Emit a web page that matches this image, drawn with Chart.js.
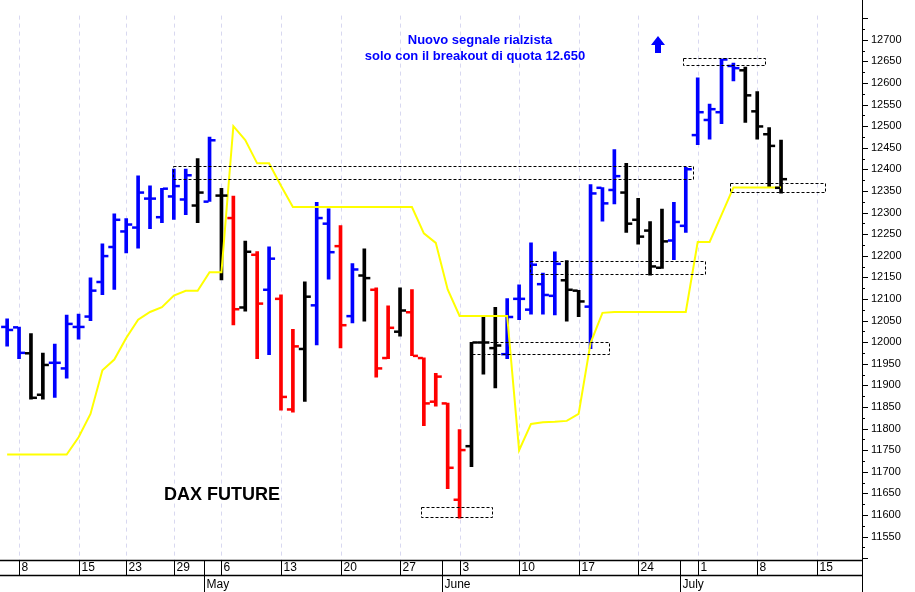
<!DOCTYPE html>
<html><head><meta charset="utf-8">
<script src="https://cdn.jsdelivr.net/npm/chart.js@4"></script>
<style>html,body{margin:0;padding:0;background:#fff}#w{width:915px;height:592px;position:relative}</style>
</head><body><div id="w"><canvas id="c"></canvas></div>
<script>
// trading-day index (0 = 8 April) of each bar
const firstIndex = -1;
const opens  = [12036,12035,11975,11879,11953,11940,12036,12060,12140,12221,12257,12266,12333,12290,12338,12331,12317,12326,12340,
 12288,12081,12203,12122,12101,11845,11985,12086,12275,12223,12061,12155,12122,11964,12025,12070,11964,11863,11859,11636,11760,12000,11987,11973,12101,12076,12135,12108,12144,12120,12083,12358,12353,12347,12284,12259,12173,12236,12270,12480,12515,12533,12640,12630,12535,12482,12358];
const highs  = [12054,12035,12020,11975,11996,12063,12065,12149,12228,12297,12286,12385,12362,12356,12401,12401,12425,12475,12356,
 12338,12234,12210,12221,12110,12030,12140,12324,12309,12270,12182,12216,12126,12084,12126,12122,11964,11928,11859,11798,12000,12059,12081,12101,12133,12230,12160,12209,12189,12120,12365,12358,12446,12414,12333,12279,12308,12324,12405,12612,12551,12655,12646,12637,12580,12497,12468];
const lows   = [11991,11962,11868,11868,11872,11917,12007,12050,12110,12122,12207,12218,12263,12277,12284,12295,12277,12326,12144,
 12040,12072,11962,11971,11843,11838,11863,11994,12146,11987,12045,12049,11919,11962,12014,11969,11807,11852,11661,11593,11712,11926,11894,11962,12052,12065,12065,12063,12049,12059,11985,12280,12320,12254,12227,12155,12171,12191,12254,12457,12470,12506,12605,12509,12470,12358,12345];
const closes = [12029,11976,11872,11948,11953,12043,12036,12120,12200,12284,12273,12347,12333,12356,12362,12387,12347,12468,12340,
 12077,12210,12090,12194,11874,11991,12106,12288,12209,12040,12169,12149,11940,12034,12074,11969,11859,11921,11710,11751,12000,12000,11993,12059,12101,12180,12110,12182,12122,12095,12345,12322,12385,12275,12245,12176,12234,12279,12401,12533,12540,12655,12635,12572,12500,12455,12378];
// signal state per bar: u = rialzista (blue), d = ribassista (red), n = neutrale (black)
const signals = "uunn" + "uuuuuuuuuuuu" + "nun" + "dnd" + "udd" + "nuu" + "dun" + "ddn" + "ddddd" + "nnn" + "uuuuu" + "nn" + "uuu" + "nnnn" + "uuuuuu" + "nnnn";
const stopLine = [11740,11740,11740,11740,11740,11740,11780,11834,11935,11960,12010,12052,12070,12081,12108,12119,12119,12162,12162,
 12500,12468,12414,12414,12362,12313,12313,12313,12313,12313,12313,12313,12313,12313,12313,12313,12252,12230,12122,12061,12061,12061,12061,12061,11750,11811,11815,11816,11818,11834,11998,12068,12070,12070,12070,12070,12070,12070,12070,12232,12232,12295,12358,12358,12358,12358,12358];
const dayTickIdx = [0,5,9,13,17,22,27,32,37,42,47,52,57,62,67];
const dayTickLabels = ["8","15","23","29","6","13","20","27","3","10","17","24","1","8","15"];
const monthBoundIdx = [15.5,35.5,55.5];
const monthLabels = ["May","June","July"];
const yTicks = [];
for (let v = 11550; v <= 12700; v += 50) yTicks.push(v);
// dashed boxes [xFrom, xTo, yLow, yHigh]
const boxes = [[12.9,56.6,12378,12409],[33.8,39.8,11595,11618],[37.9,49.6,11973,12000],[42.9,57.6,12160,12189],[55.8,62.7,12640,12657],[59.7,67.7,12349,12369]];

const colMap = {u:'#0000ff', d:'#ff0000', n:'#000000'};
const idx = opens.map((_, i) => i + firstIndex);
const barColors = idx.map((_, i) => colMap[signals[i]] || '#000');

const ohlcPlugin = {
  id: 'ohlc',
  beforeDatasetsDraw(chart) {
    const {ctx, chartArea: a, scales: {x}} = chart;
    ctx.save();
    ctx.strokeStyle = '#d8d8f0'; ctx.lineWidth = 1; ctx.setLineDash([4,4]);
    dayTickIdx.forEach(t => { const px = Math.round(x.getPixelForValue(t)) + 0.5; ctx.beginPath(); ctx.moveTo(px, a.top); ctx.lineTo(px, a.bottom); ctx.stroke(); });
    ctx.restore();
  },
  afterDatasetsDraw(chart) {
    const {ctx, chartArea: a, scales: {x, y}} = chart;
    ctx.save();
    idx.forEach((t, i) => {
      const px = x.getPixelForValue(t);
      ctx.fillStyle = barColors[i];
      const yo = y.getPixelForValue(opens[i]), yc = y.getPixelForValue(closes[i]);
      ctx.fillRect(px - 6, yo - 1, 5, 2.5);
      ctx.fillRect(px + 1, yc - 1, 5, 2.5);
    });
    ctx.strokeStyle = '#000'; ctx.lineWidth = 1; ctx.setLineDash([3,2]);
    boxes.forEach(b => {
      const x1 = x.getPixelForValue(b[0]), x2 = x.getPixelForValue(b[1]);
      const y1 = y.getPixelForValue(b[3]), y2 = y.getPixelForValue(b[2]);
      ctx.strokeRect(Math.round(x1)+0.5, Math.round(y1)+0.5, Math.round(x2-x1), Math.round(y2-y1));
    });
    ctx.setLineDash([]);
    ctx.fillStyle = '#0000ff'; ctx.font = 'bold 13px Arial, "Liberation Sans"'; ctx.textAlign = 'center'; ctx.textBaseline = 'middle';
    ctx.fillText('Nuovo segnale rialzista', 480, 40);
    ctx.fillText('solo con il breakout di quota 12.650', 475, 56);
    ctx.beginPath(); ctx.moveTo(658, 36); ctx.lineTo(665, 45); ctx.lineTo(661, 45); ctx.lineTo(661, 53); ctx.lineTo(655, 53); ctx.lineTo(655, 45); ctx.lineTo(651, 45); ctx.closePath(); ctx.fill();
    ctx.fillStyle = '#000'; ctx.font = 'bold 18px Arial, "Liberation Sans"';
    ctx.fillText('DAX FUTURE', 222, 495);
    ctx.strokeStyle = '#000'; ctx.lineWidth = 1.5;
    ctx.beginPath(); ctx.moveTo(0, a.bottom + 0.5); ctx.lineTo(a.right, a.bottom + 0.5); ctx.stroke();
    ctx.beginPath(); ctx.moveTo(0, 575.5); ctx.lineTo(a.right, 575.5); ctx.stroke();
    ctx.lineWidth = 1;
    ctx.font = '12px "Liberation Sans Narrow", Arial'; ctx.textAlign = 'left'; ctx.textBaseline = 'middle';
    dayTickIdx.forEach((t, i) => {
      const px = Math.round(x.getPixelForValue(t)) + 0.5;
      ctx.beginPath(); ctx.moveTo(px, a.bottom); ctx.lineTo(px, 575); ctx.stroke();
      ctx.fillText(dayTickLabels[i], px + 2, 568);
    });
    monthBoundIdx.forEach((t, i) => {
      const px = Math.round(x.getPixelForValue(t)) + 0.5;
      ctx.beginPath(); ctx.moveTo(px, a.bottom); ctx.lineTo(px, 592); ctx.stroke();
      ctx.fillText(monthLabels[i], px + 2, 585);
    });
    ctx.beginPath(); ctx.moveTo(a.right + 0.5, 0); ctx.lineTo(a.right + 0.5, 592); ctx.stroke();
    for (let v = 11500; v <= 12750; v += 25) {
      const py = Math.round(y.getPixelForValue(v)) + 0.5;
      ctx.beginPath(); ctx.moveTo(a.right, py); ctx.lineTo(a.right + (v % 50 === 0 ? 6 : 3), py); ctx.stroke();
    }
    ctx.restore();
  }
};

new Chart(document.getElementById('c'), {
  data: {
    datasets: [
      { type: 'bar', data: idx.map((t, i) => ({x: t, y: [lows[i], highs[i]]})), backgroundColor: barColors, barThickness: 3, borderWidth: 0, grouped: false, order: 2 },
      { type: 'line', data: idx.map((t, i) => ({x: t, y: stopLine[i]})), borderColor: '#ffff00', borderWidth: 2, pointRadius: 0, tension: 0, order: 1 }
    ]
  },
  options: {
    responsive: true, maintainAspectRatio: false, animation: false,
    layout: { padding: { left: 0, right: 0, top: 0, bottom: 32 } },
    plugins: { legend: { display: false }, tooltip: { enabled: false } },
    scales: {
      x: { type: 'linear', min: -1.6, max: 70.8, display: false, offset: false },
      y: { position: 'right', min: 11496, max: 12756,
           afterBuildTicks: s => { s.ticks = yTicks.map(v => ({value: v})); },
           afterFit: s => { s.width = 53; },
           grid: { drawOnChartArea: false, drawTicks: false }, border: { display: false },
           ticks: { color: '#000', padding: 9, callback: v => String(v), font: { size: 11, family: 'Arial, "Liberation Sans"' } } }
    }
  },
  plugins: [ohlcPlugin]
});
</script></body></html>
